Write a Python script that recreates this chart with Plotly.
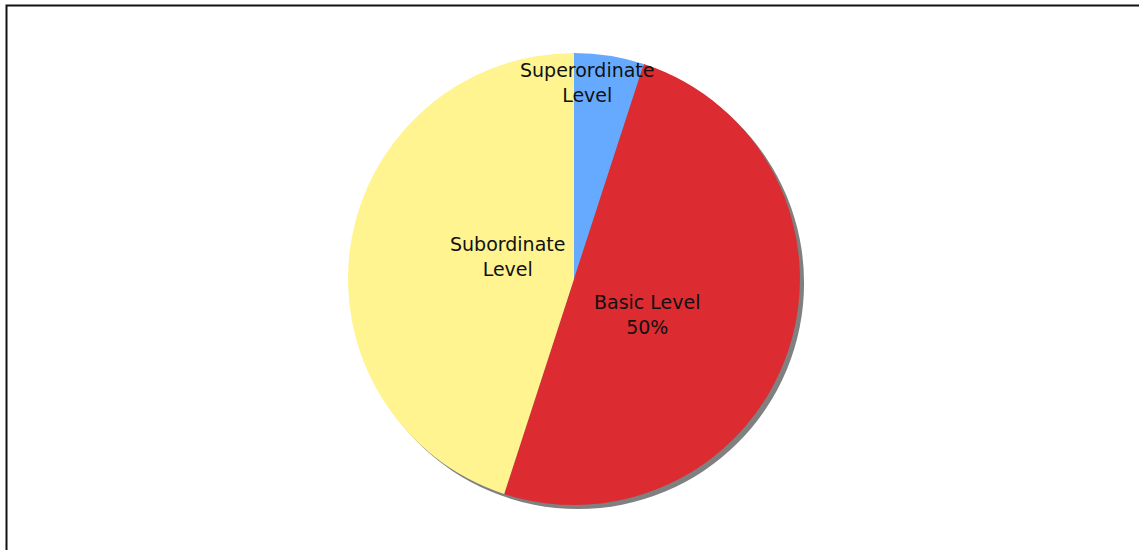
import plotly.graph_objects as go

labels = ["Superordinate Level", "Basic Level", "Subordinate Level"]
values = [5, 50, 45]
colors = ["#66AAFF", "#DC2B31", "#FFF48F"]
label_texts = ["Superordinate<br>Level", "Basic Level<br>50%", "Subordinate<br>Level"]

W, H = 1139, 550
cx, cy, r = 574, 279, 226  # pixel geometry of the pie
sh = 4  # shadow offset

def dom(cx_, cy_):
    return dict(x=[(cx_ - r) / W, (cx_ + r) / W],
                y=[(H - cy_ - r) / H, (H - cy_ + r) / H])

fig = go.Figure()
# shadow
fig.add_trace(go.Pie(values=[1], labels=["shadow"], marker=dict(colors=["#808080"]),
                     textinfo="none", hoverinfo="skip", showlegend=False,
                     domain=dom(cx + sh, cy + sh), sort=False))
fig.add_trace(go.Pie(values=values, labels=labels, marker=dict(colors=colors, line=dict(width=0)),
                     textinfo="none", sort=False, direction="clockwise", rotation=0,
                     showlegend=False, domain=dom(cx, cy)))

ann_pos = [(587, 83), (647, 314), (508, 256)]
for t, (x, y) in zip(label_texts, ann_pos):
    fig.add_annotation(text=t, x=x / W, y=1 - y / H, xref="paper", yref="paper",
                       showarrow=False, xanchor="center", yanchor="middle",
                       font=dict(family="DejaVu Sans", size=19, color="#111111"))

fig.add_shape(type="rect", xref="paper", yref="paper",
              x0=6.5 / W, x1=1.02, y0=-0.02, y1=1 - 5.5 / H,
              line=dict(color="#111111", width=2))

fig.update_layout(width=W, height=H, margin=dict(l=0, r=0, t=0, b=0),
                  paper_bgcolor="white", plot_bgcolor="white")
fig.write_html("out.html")
